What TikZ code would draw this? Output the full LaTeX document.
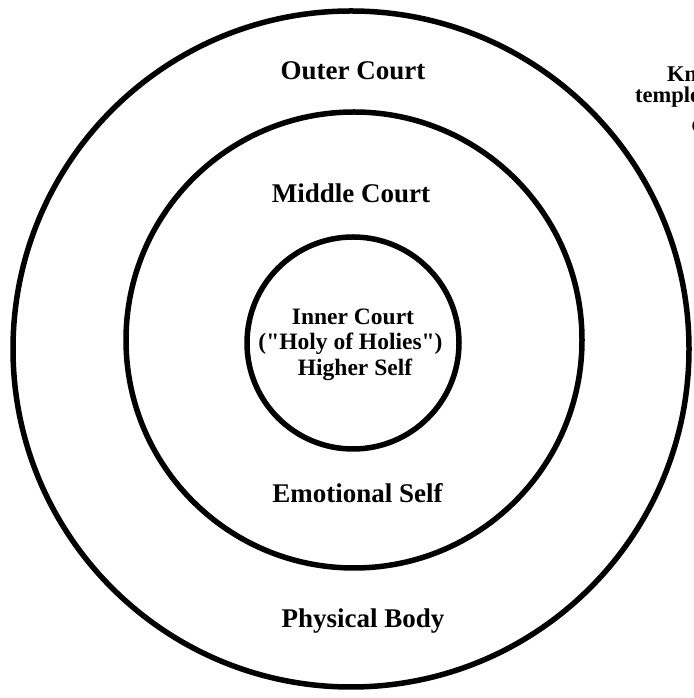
\documentclass[tikz,border=0pt]{standalone}
\usepackage{fontspec}
\setmainfont{Liberation Serif}[Ligatures=TeXOff]
\begin{document}
\begin{tikzpicture}[x=1pt,y=1pt,
  ring/.style={draw=black,line width=5.5pt},
  court/.style={font=\bfseries\fontsize{27}{30}\selectfont,anchor=base,inner sep=0pt},
  innertext/.style={font=\bfseries\fontsize{23.5}{26}\selectfont,anchor=base,inner sep=0pt},
  verse/.style={font=\bfseries\fontsize{22.5}{24}\selectfont,anchor=base west,inner sep=0pt}]
\useasboundingbox (0,0) rectangle (693,698);
\begin{scope}
\clip (0,0) rectangle (693,698);
% concentric courts
\draw[ring] (351,349) circle (338);
\draw[ring] (354,358) circle (228);
\draw[ring] (353,355) circle (106);
% verse beside the outer court, running past the edge
\node[verse] (v1) at (667,616) {Know ye not that ye are the};
\node[verse] (v2) at (635,595) {temple of God, and that the Spirit};
\node[verse] (v3) at (691.5,566) {of God dwelleth in you?};
\end{scope}
% labels
\node[court] (outer) at (353,618) {Outer Court};
\node[court] (middle) at (351,495) {Middle Court};
\node[innertext] (inner1) at (353,373) {Inner Court};
\node[innertext] (inner2) at (350.5,348) {("Holy of Holies")};
\node[innertext] (inner3) at (355,322) {Higher Self};
\node[court] (emotional) at (357.5,195) {Emotional Self};
\node[court] (physical) at (363,70) {Physical Body};
\end{tikzpicture}
\end{document}
